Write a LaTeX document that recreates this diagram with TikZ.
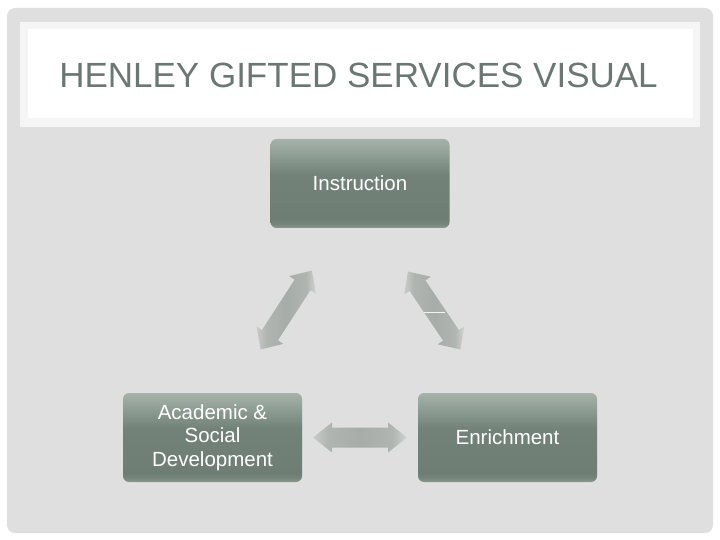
\documentclass[tikz,border=0pt]{standalone}
\usepackage{fontspec}
\setmainfont{Liberation Sans}
\usetikzlibrary{calc}
\definecolor{pagebg}{HTML}{FFFFFF}
\definecolor{slidebg}{HTML}{DFDFDF}
\definecolor{titleouter}{HTML}{F4F5F4}
\definecolor{titlecol}{HTML}{6B7773}
\definecolor{wline}{HTML}{F2F3F2}
\pgfdeclareverticalshading{boxshade}{100bp}{%
  color(0bp)=(rgb,255:red,141;green,155;blue,147);
  color(25bp)=(rgb,255:red,141;green,155;blue,147);
  color(27bp)=(rgb,255:red,120;green,134;blue,125);
  color(30bp)=(rgb,255:red,110;green,126;blue,116);
  color(55bp)=(rgb,255:red,114;green,130;blue,120);
  color(67bp)=(rgb,255:red,145;green,160;blue,150);
  color(75bp)=(rgb,255:red,166;green,178;blue,169);
  color(100bp)=(rgb,255:red,166;green,178;blue,169)}
\pgfdeclarehorizontalshading{arrowshade}{100bp}{%
  color(0bp)=(rgb,255:red,200;green,204;blue,200);
  color(25bp)=(rgb,255:red,200;green,204;blue,200);
  color(33bp)=(rgb,255:red,176;green,181;blue,177);
  color(50bp)=(rgb,255:red,166;green,172;blue,167);
  color(67bp)=(rgb,255:red,176;green,181;blue,177);
  color(75bp)=(rgb,255:red,208;green,212;blue,208);
  color(100bp)=(rgb,255:red,208;green,212;blue,208)}
\tikzset{
  stepbox/.style={shading=boxshade, rounded corners=6pt, minimum width=179pt,
    minimum height=89pt, inner sep=2pt, text=white, align=center,
    font=\fontsize{20.5pt}{23.5pt}\selectfont},
  dblarrow/.pic={\shade[shading=arrowshade]
    (-47,0)--(-28,15)--(-28,10)--(28,10)--(28,15)--(47,0)--(28,-15)
    --(28,-10)--(-28,-10)--(-28,-15)--cycle;},
  diagarrow/.pic={\shade[shading=arrowshade]
    (-47,0)--(-30,16)--(-30,9.5)--(30,9.5)--(30,16)--(47,0)--(30,-16)
    --(30,-9.5)--(-30,-9.5)--(-30,-16)--cycle;}
}
\begin{document}
\begin{tikzpicture}[x=1pt,y=-1pt]
\useasboundingbox (0,0) rectangle (720,540);
\fill[pagebg] (0,0) rectangle (720,540);
\fill[slidebg, rounded corners=8pt] (7,8) rectangle (713,533);
\fill[titleouter] (20,22) rectangle (700,127);
\fill[white] (28,29) rectangle (693,118);
\node[anchor=base, text=titlecol, inner sep=0pt,
  font=\fontsize{35pt}{40pt}\selectfont] (title) at (358.5,88)
  {HENLEY GIFTED SERVICES VISUAL};
\node[stepbox] (instr) at (360,183.5) {Instruction};
\node[stepbox] (acad) at (212.5,437.5) {Academic \&\\Social\\Development};
\node[stepbox] (enrich) at (507.5,437.5) {Enrichment};
\coordinate (aleft) at ($(instr.south west)!0.5!(acad.north east)$);
\coordinate (aright) at ($(instr.south east)!0.5!(enrich.north west)$);
\coordinate (abottom) at ($(acad.east)!0.5!(enrich.west)$);
\pic[rotate=57] at ($(aleft)+(0,-0.5)$) {diagarrow};
\pic[rotate=-56] at ($(aright)+(0.5,0)$) {diagarrow};
\pic at (abottom) {dblarrow};
\draw[wline, line width=0.8pt] (424,312) -- (445,312);
\end{tikzpicture}
\end{document}
